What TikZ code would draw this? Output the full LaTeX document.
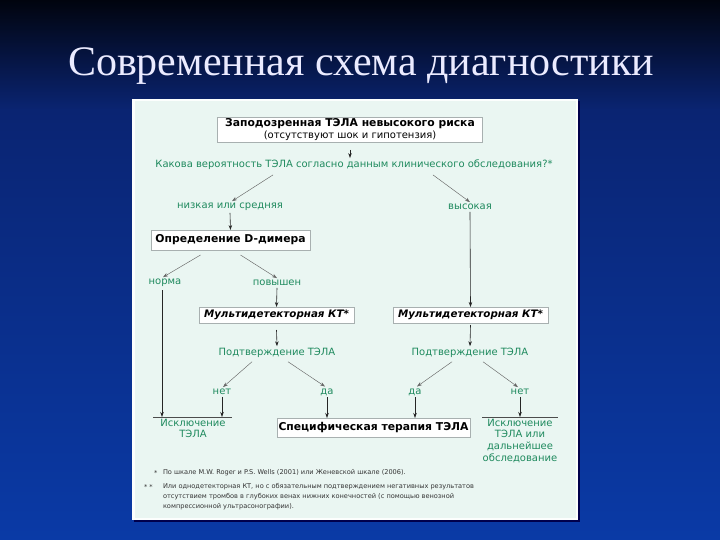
\documentclass[tikz,border=0pt]{standalone}
\usepackage{fontspec}
\setmainfont{Liberation Serif}
\newfontfamily\diag{DejaVu Sans}
\usetikzlibrary{arrows.meta,calc}
\definecolor{bgtop}{HTML}{01040E}
\definecolor{bgmid}{HTML}{0A2472}
\definecolor{bgbot}{HTML}{0A3AA6}
\definecolor{panelfill}{HTML}{EAF6F2}
\definecolor{grn}{HTML}{1F8A5E}
\definecolor{boxline}{HTML}{A8B0B0}
\tikzset{
  every node/.style={inner sep=0pt, outer sep=0pt},
  box/.style={draw=boxline, fill=white, line width=0.8pt, font=\diag\bfseries\fontsize{10.8}{12}\selectfont, text=black},
  gtext/.style={font=\diag\fontsize{10}{11}\selectfont, text=grn, align=center},
  arr/.style={draw=black!85, line width=0.6pt, -{Stealth[length=5pt,width=3.5pt]}},
  darr/.style={draw=black!60, line width=0.45pt, -{Stealth[length=5pt,width=3.5pt]}},
  note/.style={font=\diag\fontsize{6.6}{10}\selectfont, text=black!80, anchor=west},
}
\begin{document}
\begin{tikzpicture}[x=1pt,y=-1pt]
\useasboundingbox (0,0) rectangle (720,540);
% background
\shade[top color=bgtop, bottom color=bgmid] (0,0) rectangle (720,110);
\shade[top color=bgmid, bottom color=bgbot] (0,110) rectangle (720,540);
% panel
\fill[black!70!blue] (134,101) rectangle (580,522);
\fill[white!85!panelfill] (132,99) rectangle (578,520);
\fill[panelfill] (134.5,101.5) rectangle (576,518);
% title
\node[font=\fontsize{42}{44}\selectfont, text=white!92!blue] (title) at (361,66) {Современная схема диагностики};

% top box
\node[box, minimum width=265, minimum height=25, align=center] (top) at (350,129.5)
  {\fontsize{10.8}{11}\selectfont Заподозренная ТЭЛА невысокого риска\\[0pt]
   {\mdseries\fontsize{10}{10}\selectfont (отсутствуют шок и гипотензия)}};
\node[gtext] (q) at (354,165) {Какова вероятность ТЭЛА согласно данным клинического обследования?*};
\node[gtext] (low) at (230,207) {низкая или средняя};
\node[gtext] (high) at (470,207) {высокая};
\node[box, minimum width=159, minimum height=20] (ddim) at (230.5,240) {Определение D-димера};
\node[gtext] (norma) at (165,283) {норма};
\node[gtext] (pov) at (277,283) {повышен};
\node[box, minimum width=155, minimum height=16, font=\diag\bfseries\itshape\fontsize{10.3}{11}\selectfont] (ct1) at (276.5,315) {Мультидетекторная КТ*};
\node[box, minimum width=155, minimum height=16, font=\diag\bfseries\itshape\fontsize{10.3}{11}\selectfont] (ct2) at (470.5,315) {Мультидетекторная КТ*};
\node[gtext] (conf1) at (277,353) {Подтверждение ТЭЛА};
\node[gtext] (conf2) at (470,353) {Подтверждение ТЭЛА};
\node[gtext] (no1) at (222,392) {нет};
\node[gtext] (yes1) at (327,392) {да};
\node[gtext] (yes2) at (415,392) {да};
\node[gtext] (no2) at (520,392) {нет};
\node[gtext, anchor=north, font=\diag\fontsize{10}{11}\selectfont] (exc1) at (193,419) {Исключение\\ТЭЛА};
\node[box, minimum width=193, minimum height=19] (ther) at (373.5,427.5) {Специфическая терапия ТЭЛА};
\node[gtext, anchor=north, font=\diag\fontsize{10}{11.7}\selectfont] (exc2) at (520,419) {Исключение\\ТЭЛА или\\дальнейшее\\обследование};
\coordinate (l1) at (153,417);
\coordinate (l2) at (232,417);
\coordinate (r1) at (482,417);
\coordinate (r2) at (558,417);
\coordinate (nl) at (162,290);
\coordinate (qa) at ([yshift=2]q.north);
\draw[black!70, line width=0.6pt] (l1) -- (l2);
\draw[black!70, line width=0.6pt] (r1) -- (r2);

% connectors
\draw[arr] ([yshift=-8]top.south) -- (qa -| top.south);
\draw[darr] ([xshift=-81,yshift=-5]q.south) -- ([xshift=2,yshift=2]low.north);
\draw[darr] ([xshift=79,yshift=-5]q.south) -- ([yshift=2]high.north);
\draw[arr] ([yshift=-2]low.south) -- (ddim.north);
\draw[arr] ([yshift=-2]high.south) -- (ct2.north);
\draw[darr] ([xshift=-30,yshift=-5]ddim.south) -- ([xshift=-2,yshift=2]norma.north);
\draw[darr] ([xshift=10,yshift=-5]ddim.south) -- ([yshift=2]pov.north);
\draw[arr] (nl) -- (nl |- l1);
\draw[arr] ([yshift=-2]pov.south) -- (ct1.north);
\draw[arr] ([yshift=-7]ct1.south) -- ([yshift=2]conf1.north);
\draw[arr] ([yshift=-2]ct2.south) -- ([yshift=2]conf2.north);
\draw[darr] ([xshift=-25,yshift=-4]conf1.south) -- ([xshift=1,yshift=2]no1.north);
\draw[darr] ([xshift=11,yshift=-4]conf1.south) -- ([xshift=-2,yshift=2]yes1.north);
\draw[darr] ([xshift=-18,yshift=-4]conf2.south) -- ([xshift=2,yshift=2]yes2.north);
\draw[darr] ([xshift=13,yshift=-4]conf2.south) -- ([xshift=-2,yshift=2]no2.north);
\draw[arr] ([yshift=-2]no1.south) -- (no1 |- l1);
\draw[arr] ([yshift=-2]yes1.south) -- (yes1 |- ther.north);
\draw[arr] ([yshift=-2]yes2.south) -- (yes2 |- ther.north);
\draw[arr] ([yshift=-2]no2.south) -- (no2 |- r1);

% footnotes
\node[note] (s1) at (154,473) {*};
\node[note] (f1) at (163,473) {По шкале M.W. Roger и P.S. Wells (2001) или Женевской шкале (2006).};
\node[note] (s2) at (144,487) {* *};
\node[note, align=left, anchor=north west] (f2) at (163,483) {Или однодетекторная КТ, но с обязательным подтверждением негативных результатов\\отсутствием тромбов в глубоких венах нижних конечностей (с помощью венозной\\компрессионной ультрасонографии).};
\end{tikzpicture}
\end{document}
